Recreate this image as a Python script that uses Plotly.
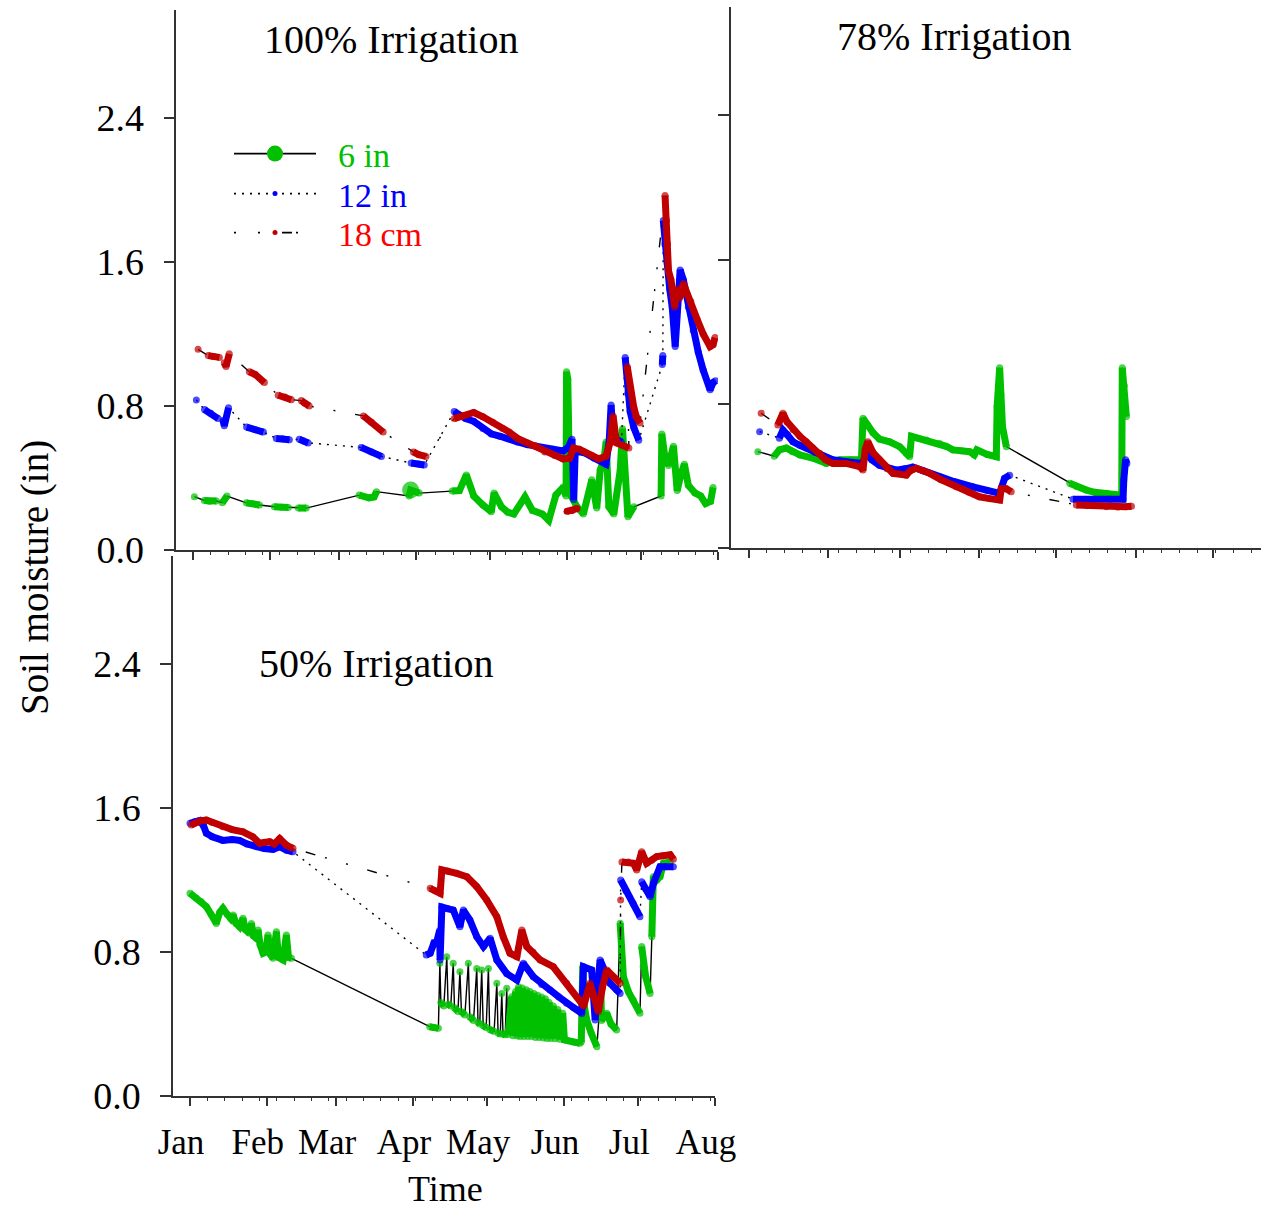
import plotly.graph_objects as go
import pandas as pd

# ---------------- data: (day offset from 1 Jan, soil moisture in inches) ----------------
# 100 % irrigation
green_100 = [
    [(0.4, 0.296)],
    [(4.4, 0.275), (6.5, 0.27), (9.3, 0.272)],
    [(11.7, 0.263), (13.6, 0.30)],
    [(21.4, 0.262), (24.0, 0.258), (26.7, 0.25)],
    [(32.7, 0.24), (35.5, 0.238), (38.4, 0.236)],
    [(42.4, 0.233), (45.6, 0.233)],
    [(67.0, 0.305), (71.0, 0.29), (73.0, 0.295), (74.0, 0.324)],
    [(87.2, 0.30), (87.8, 0.333), (91.3, 0.316)],
    [(104.6, 0.328), (107.5, 0.33), (110.3, 0.417), (113.3, 0.30), (117.0, 0.25), (120.4, 0.213),
     (121.5, 0.317), (124.5, 0.24), (127.0, 0.21), (129.5, 0.20), (134.0, 0.295), (137.0, 0.22),
     (141.0, 0.20), (143.6, 0.165), (146.5, 0.305), (149.5, 0.35), (150.6, 0.30), (150.8, 0.99),
     (151.3, 0.95), (151.6, 0.72), (152.0, 0.317), (155.0, 0.24), (157.6, 0.20), (161.0, 0.39),
     (163.0, 0.233), (164.4, 0.444), (165.9, 0.50), (166.8, 0.60), (167.9, 0.24), (169.9, 0.20),
     (172.5, 0.444), (173.4, 0.674), (174.2, 0.45), (175.6, 0.185), (178.0, 0.24)],
    [(189.0, 0.30), (189.3, 0.645), (190.5, 0.52), (192.0, 0.47), (194.0, 0.577), (195.5, 0.33),
     (197.0, 0.42), (198.4, 0.477), (200.0, 0.36), (202.7, 0.317), (205.0, 0.30), (207.0, 0.258),
     (209.0, 0.27), (210.0, 0.347)],
]
blue_100 = [
    [(1.2, 0.833)],
    [(4.5, 0.78), (7.0, 0.76), (10.0, 0.73)],
    [(12.0, 0.72), (12.5, 0.69), (14.2, 0.79)],
    [(21.5, 0.683), (25.0, 0.668), (28.3, 0.655)],
    [(33.5, 0.62), (36.0, 0.618), (38.8, 0.612)],
    [(42.8, 0.615), (44.5, 0.605), (46.4, 0.595)],
    [(67.8, 0.57), (72.0, 0.545), (76.0, 0.52)],
    [(88.0, 0.483), (91.0, 0.478), (93.3, 0.472)],
    [(105.4, 0.77), (107.5, 0.75), (110.0, 0.73), (113.3, 0.715), (117.0, 0.675), (120.4, 0.645),
     (124.0, 0.632), (127.6, 0.62), (131.0, 0.60), (135.0, 0.585), (140.0, 0.57), (145.0, 0.56),
     (149.4, 0.55), (151.5, 0.57), (153.0, 0.615), (153.4, 0.45), (153.7, 0.28), (154.3, 0.55),
     (158.0, 0.54), (162.0, 0.51), (166.7, 0.477), (168.0, 0.60), (168.8, 0.805), (169.5, 0.66),
     (171.0, 0.615), (173.0, 0.60)],
    [(174.5, 1.07), (175.5, 0.87), (176.5, 0.77), (178.0, 0.68), (180.0, 0.61)],
    [(189.5, 1.03), (189.7, 1.08)],
    [(189.9, 1.83), (190.5, 1.70), (191.5, 1.59), (192.5, 1.45), (193.5, 1.35), (194.7, 1.13),
     (195.5, 1.35), (196.7, 1.556), (198.0, 1.50), (200.0, 1.35), (202.0, 1.22), (204.0, 1.10),
     (206.0, 1.00), (208.8, 0.89), (210.0, 0.93), (211.0, 0.94)],
]
red_100 = [
    [(1.9, 1.115)],
    [(6.0, 1.08), (8.0, 1.075), (10.5, 1.07)],
    [(12.5, 1.04), (13.2, 1.02), (14.5, 1.09)],
    [(22.6, 0.99), (25.0, 0.975), (28.7, 0.93)],
    [(34.3, 0.86), (37.0, 0.85), (39.6, 0.835)],
    [(43.6, 0.83), (45.0, 0.815), (46.8, 0.80)],
    [(68.7, 0.745), (72.0, 0.71), (76.7, 0.655)],
    [(88.9, 0.545), (91.0, 0.53), (94.0, 0.52)],
    [(105.4, 0.73), (109.0, 0.745), (113.3, 0.764), (117.0, 0.74), (121.0, 0.71), (125.0, 0.675),
     (127.6, 0.655), (131.0, 0.62), (135.0, 0.595), (138.0, 0.58), (142.0, 0.545), (146.0, 0.525),
     (149.4, 0.506), (152.0, 0.51), (153.7, 0.567), (156.0, 0.56), (158.0, 0.545), (161.0, 0.525),
     (163.8, 0.506), (166.7, 0.52), (168.5, 0.60), (169.6, 0.745), (170.3, 0.62), (171.0, 0.595),
     (173.5, 0.58), (176.0, 0.567)],
    [(175.3, 1.02), (176.5, 0.90), (178.0, 0.79), (179.0, 0.74), (180.5, 0.705)],
    [(190.6, 1.97), (191.2, 1.83), (191.6, 1.70), (192.0, 1.55), (193.0, 1.50), (194.5, 1.35),
     (195.5, 1.45), (196.5, 1.40), (198.0, 1.48), (199.5, 1.42), (201.0, 1.38), (203.6, 1.28),
     (206.0, 1.20), (208.8, 1.13), (210.0, 1.14), (210.8, 1.18)],
]
red_100_low = [(151.0, 0.215), (153.0, 0.22), (155.0, 0.23)]

# 78 % irrigation
green_78 = [
    [(3.6, 0.535)],
    [(10.0, 0.51), (12.0, 0.545), (14.7, 0.555), (17.0, 0.535), (20.0, 0.517), (25.0, 0.50),
     (30.3, 0.47), (35.5, 0.49), (40.0, 0.49), (44.0, 0.49), (44.6, 0.72), (46.5, 0.68),
     (48.5, 0.64), (51.0, 0.605), (55.0, 0.59), (58.9, 0.563), (61.5, 0.527), (62.8, 0.507),
     (63.5, 0.62), (66.0, 0.61), (69.3, 0.60), (74.5, 0.58), (77.0, 0.565), (79.7, 0.545),
     (83.0, 0.54), (86.2, 0.535), (88.0, 0.517), (89.0, 0.545), (93.0, 0.52), (96.6, 0.507),
     (96.9, 0.785), (97.9, 1.00), (98.4, 0.85), (99.0, 0.674), (100.5, 0.563)],
    [(125.2, 0.36), (128.0, 0.34), (131.7, 0.322), (135.0, 0.31), (139.5, 0.304), (145.5, 0.294),
     (145.7, 1.00), (146.5, 0.90), (147.3, 0.73)],
]
blue_78 = [
    [(4.3, 0.646)],
    [(12.0, 0.61), (13.4, 0.655), (15.0, 0.63), (17.3, 0.59), (20.0, 0.57), (22.5, 0.555),
     (26.0, 0.53), (29.0, 0.507), (32.8, 0.49), (38.0, 0.48), (44.5, 0.47), (45.9, 0.535),
     (48.0, 0.49), (51.0, 0.46), (54.0, 0.445), (57.6, 0.433), (61.0, 0.44), (64.0, 0.45),
     (68.0, 0.43), (74.5, 0.396), (80.0, 0.37), (87.5, 0.34), (93.0, 0.32), (97.9, 0.304),
     (99.8, 0.387), (101.8, 0.405)],
    [(126.5, 0.272), (135.0, 0.272), (141.0, 0.272), (146.0, 0.272), (146.3, 0.378), (147.0, 0.49),
     (147.5, 0.47)],
]
red_78 = [
    [(4.9, 0.748)],
    [(11.4, 0.683), (12.0, 0.70), (13.4, 0.748), (15.0, 0.70), (17.3, 0.656), (20.0, 0.62),
     (22.5, 0.59), (25.0, 0.555), (27.7, 0.526), (30.0, 0.49), (32.9, 0.47), (38.0, 0.47),
     (43.3, 0.452), (44.6, 0.433), (45.5, 0.55), (46.5, 0.59), (48.5, 0.53), (51.0, 0.49),
     (54.0, 0.44), (56.3, 0.415), (61.5, 0.405), (63.0, 0.43), (65.4, 0.443), (68.0, 0.43),
     (70.6, 0.415), (75.0, 0.38), (81.0, 0.34), (86.0, 0.31), (90.0, 0.285), (94.0, 0.275),
     (97.9, 0.267), (98.5, 0.33), (100.5, 0.33), (102.4, 0.313)],
    [(127.8, 0.24), (132.0, 0.236), (139.5, 0.23), (144.0, 0.228), (147.0, 0.23), (149.3, 0.233)],
]

# 50 % irrigation
green_50 = [
    [(0.0, 1.126), (2.5, 1.10), (4.5, 1.08), (6.6, 1.052), (8.5, 1.01), (10.6, 0.959), (12.0, 1.02),
     (13.3, 1.043), (15.0, 1.01), (16.5, 0.985), (17.4, 1.006), (18.5, 0.96), (20.0, 0.94),
     (21.4, 0.987), (22.3, 0.925), (24.0, 0.904), (24.8, 0.959), (25.6, 0.89), (26.8, 0.876),
     (27.5, 0.922), (28.3, 0.84), (29.5, 0.793), (30.6, 0.80), (31.5, 0.894), (32.3, 0.79),
     (33.5, 0.765), (34.9, 0.913), (35.7, 0.77), (37.6, 0.756), (38.9, 0.894), (39.8, 0.77),
     (41.0, 0.765)],
    [(96.8, 0.385), (98.5, 0.38), (100.3, 0.376)],
    [(100.9, 0.737)],
    [(101.3, 0.52), (102.5, 0.50)],
    [(103.7, 0.774)],
    [(104.2, 0.51), (105.3, 0.50)],
    [(106.3, 0.737)],
    [(106.8, 0.49), (108.2, 0.47)],
    [(109.0, 0.69)],
    [(109.6, 0.47), (111.0, 0.45)],
    [(112.4, 0.737)],
    [(113.0, 0.44), (114.5, 0.42)],
    [(115.8, 0.709)],
    [(116.3, 0.41), (117.0, 0.40)],
    [(117.8, 0.70)],
    [(118.4, 0.39), (119.6, 0.38)],
    [(120.5, 0.709)],
    [(121.0, 0.37), (122.8, 0.36)],
    [(123.9, 0.626)],
    [(124.4, 0.35), (125.3, 0.345)],
    [(125.9, 0.57)],
    [(126.4, 0.345), (127.3, 0.34)],
    [(127.9, 0.598)],
    [(128.4, 0.34), (129.9, 0.552), (130.4, 0.335), (131.5, 0.58),
     (132.1, 0.333), (132.7, 0.607), (133.3, 0.33), (134.2, 0.60), (134.8, 0.33), (135.8, 0.59),
     (136.4, 0.33), (137.3, 0.58), (137.9, 0.33), (138.9, 0.57), (139.5, 0.325), (140.4, 0.56),
     (141.0, 0.325), (142.0, 0.55), (142.6, 0.322), (143.5, 0.54), (144.1, 0.32), (145.0, 0.52),
     (145.6, 0.32), (146.7, 0.50), (147.3, 0.318), (148.5, 0.48), (149.2, 0.315), (150.5, 0.46),
     (151.2, 0.312), (152.1, 0.311), (155.0, 0.30), (157.5, 0.293)],
    [(158.0, 0.30), (158.6, 0.72), (159.2, 0.50), (160.2, 0.422), (162.0, 0.35), (164.3, 0.274)],
    [(165.2, 0.45), (165.6, 0.737), (166.2, 0.42), (168.3, 0.46), (170.0, 0.40), (172.3, 0.367)],
    [(173.7, 0.96), (174.2, 0.80), (175.0, 0.663), (177.0, 0.58), (179.0, 0.533), (181.7, 0.46)],
    [(182.4, 0.83), (183.0, 0.72), (184.0, 0.663), (185.8, 0.57)],
    [(186.5, 0.885), (187.1, 1.218), (188.5, 1.20), (189.8, 1.218), (191.2, 1.293), (193.9, 1.30)],
]
blue_50 = [
    [(0.0, 1.515), (2.0, 1.525), (3.9, 1.53), (5.5, 1.50), (6.6, 1.46), (9.0, 1.44), (13.3, 1.42),
     (17.0, 1.425), (20.0, 1.42), (23.0, 1.40), (26.8, 1.385), (30.0, 1.375), (33.5, 1.37),
     (36.2, 1.385), (39.0, 1.365), (41.6, 1.357)],
    [(95.4, 0.783), (97.0, 0.793), (98.5, 0.85), (99.5, 0.848), (100.8, 0.92), (101.0, 0.756),
     (101.7, 1.05), (104.0, 1.04), (106.3, 1.033), (109.0, 0.94), (110.4, 1.033), (113.0, 0.978),
     (115.8, 0.885), (118.5, 0.83), (121.2, 0.876), (123.9, 0.756), (127.9, 0.68), (132.0, 0.644),
     (134.6, 0.737), (138.6, 0.663), (142.0, 0.62), (145.4, 0.589), (149.0, 0.55), (152.1, 0.515),
     (155.0, 0.49), (158.2, 0.459), (158.9, 0.718), (162.2, 0.70), (163.6, 0.422), (165.6, 0.756),
     (168.0, 0.68), (169.6, 0.626), (172.3, 0.589), (173.7, 0.57)],
    [(173.9, 1.20), (176.0, 1.14), (179.0, 1.07), (181.7, 0.996)],
    [(182.4, 1.19), (184.0, 1.15), (185.8, 1.107), (187.1, 1.18), (189.8, 1.274), (192.0, 1.274),
     (195.2, 1.274)],
]
red_50 = [
    [(0.5, 1.506), (2.5, 1.52), (4.5, 1.53), (6.6, 1.533), (9.0, 1.52), (13.3, 1.496), (17.0, 1.48),
     (21.4, 1.468), (25.4, 1.44), (28.1, 1.404), (30.0, 1.41), (32.2, 1.413), (34.0, 1.40),
     (36.2, 1.43), (38.9, 1.394), (41.6, 1.376)],
    [(97.0, 1.154), (99.0, 1.14), (101.0, 1.126), (101.7, 1.256), (104.0, 1.25), (107.7, 1.237),
     (111.8, 1.218), (115.8, 1.163), (119.8, 1.089), (123.9, 0.996), (126.5, 0.885), (129.2, 0.793),
     (132.0, 0.774), (134.0, 0.922), (136.0, 0.83), (138.5, 0.80), (141.4, 0.756), (146.7, 0.718),
     (152.1, 0.626), (157.5, 0.533), (159.0, 0.50), (161.5, 0.626), (163.0, 0.55), (164.9, 0.468),
     (166.5, 0.60), (168.3, 0.70), (171.0, 0.663), (173.7, 0.626)],
    [(173.9, 1.089)],
    [(174.4, 1.30), (177.0, 1.30), (179.0, 1.293), (180.4, 1.256), (182.4, 1.357), (184.4, 1.293),
     (186.5, 1.31), (188.5, 1.33), (191.0, 1.335), (193.9, 1.34), (195.2, 1.315)],
]

month_ticks = ["2019-01-01", "2019-02-01", "2019-03-01", "2019-04-01",
               "2019-05-01", "2019-06-01", "2019-07-01", "2019-08-01"]
month_labels = ["Jan", "Feb", "Mar", "Apr", "May", "Jun", "Jul", "Aug"]
y_ticks = [0.0, 0.8, 1.6, 2.4]
legend_names = ["6 in", "12 in", "18 cm"]
panel_titles = ["100% Irrigation", "78% Irrigation", "50% Irrigation"]

# ---------------- styling ----------------
W, H = 1261, 1211
BASE = pd.Timestamp("2019-01-01")
GREEN, BLUE, RED = "#00C000", "#0000FF", "#C00000"
LEG_GREEN, LEG_BLUE, LEG_RED = "#00C000", "#0000FF", "#FF0000"
DASH_SOLID, DASH_DOT = "solid", "2px,6px"
DASH_DASHDOT = "10px,10px,2px,20px,2px,20px"
FONT = "Liberation Serif"
AX = "#333333"
BAND_W, MARK_S = 7, 7


def to_date(d):
    return None if d is None else BASE + pd.Timedelta(days=d)


fig = go.Figure()


def add_series(segs, color, dash, xa, ya, big_day=None):
    all_d = [p[0] for s in segs for p in s]
    all_v = [p[1] for s in segs for p in s]
    fig.add_trace(go.Scatter(
        x=[to_date(d) for d in all_d], y=all_v, xaxis=xa, yaxis=ya, mode="lines",
        line=dict(color="black", width=1.4, dash=dash), showlegend=False, hoverinfo="skip"))
    sd, sv = [], []
    for s in segs:
        sd += [p[0] for p in s] + [None]
        sv += [p[1] for p in s] + [None]
    sizes = [17 if (big_day is not None and d == big_day) else MARK_S for d in sd]
    fig.add_trace(go.Scatter(
        x=[to_date(d) for d in sd], y=sv, xaxis=xa, yaxis=ya, mode="lines+markers",
        line=dict(color=color, width=BAND_W),
        marker=dict(color=color, size=sizes, line=dict(width=0)),
        connectgaps=False, showlegend=False, hoverinfo="skip"))


add_series(green_100, GREEN, DASH_SOLID, "x", "y", big_day=87.8)
add_series(blue_100, BLUE, DASH_DOT, "x", "y")
add_series(red_100, RED, DASH_DASHDOT, "x", "y")
fig.add_trace(go.Scatter(
    x=[to_date(p[0]) for p in red_100_low], y=[p[1] for p in red_100_low], xaxis="x", yaxis="y",
    mode="lines+markers", line=dict(color=RED, width=BAND_W),
    marker=dict(color=RED, size=MARK_S, line=dict(width=0)),
    showlegend=False, hoverinfo="skip"))

add_series(green_78, GREEN, DASH_SOLID, "x2", "y2")
add_series(blue_78, BLUE, DASH_DOT, "x2", "y2")
add_series(red_78, RED, DASH_DASHDOT, "x2", "y2")

add_series(green_50, GREEN, DASH_SOLID, "x3", "y3")
add_series(blue_50, BLUE, DASH_DOT, "x3", "y3")
add_series(red_50, RED, DASH_DASHDOT, "x3", "y3")

# legend entries (one legend box per row so the rows can be spaced like the original)
legend_rows = [
    (legend_names[0], GREEN, LEG_GREEN, DASH_SOLID, 18, "legend", 154),
    (legend_names[1], BLUE, LEG_BLUE, DASH_DOT, 5, "legend2", 194),
    (legend_names[2], RED, LEG_RED, "2px,22px,2px,22px,10px,4px", 5, "legend3", 233),
]
legend_layout = {}
for name, mcol, tcol, dash, ms, lg, ypix in legend_rows:
    fig.add_trace(go.Scatter(
        x=[None], y=[None], xaxis="x", yaxis="y", mode="lines+markers", legend=lg,
        name=f"&nbsp;&nbsp;<span style='color:{tcol}'>{name}</span>",
        line=dict(color="black", width=1.6, dash=dash),
        marker=dict(color=mcol, size=ms, line=dict(width=0))))
    legend_layout[lg] = dict(x=229 / W, y=(H - ypix) / H, xanchor="left", yanchor="middle",
                             bgcolor="rgba(0,0,0,0)", font=dict(family=FONT, size=34),
                             itemwidth=82)

x_left_a = "2018-12-25 03:20"
minor = dict(dtick=7 * 86400000, tick0="2019-01-01", ticks="outside", ticklen=3,
             tickcolor=AX, tickwidth=1)
xcommon = dict(type="date", showline=True, linecolor=AX, linewidth=1.5, showgrid=False,
               zeroline=False, ticks="outside", tickcolor=AX, tickwidth=1.5, ticklen=8,
               tickvals=month_ticks, ticktext=month_labels, automargin=False,
               minor=minor, fixedrange=True)
ycommon = dict(range=[0, 3], showline=True, linecolor=AX, linewidth=1.5, showgrid=False,
               zeroline=False, ticks="outside", tickcolor=AX, tickwidth=1.5, ticklen=11,
               tickvals=y_ticks, tickformat=".1f", automargin=False,
               tickfont=dict(family=FONT, size=38, color="black"), ticklabelstandoff=12)

fig.update_layout(
    width=W, height=H, margin=dict(l=0, r=0, t=0, b=0),
    paper_bgcolor="white", plot_bgcolor="white",
    font=dict(family=FONT, color="black"),
    xaxis=dict(xcommon, domain=[176.4 / W, 718 / W], range=[x_left_a, "2019-08-01"],
               anchor="y", showticklabels=False),
    yaxis=dict(ycommon, domain=[(H - 550) / H, (H - 10) / H], anchor="x"),
    xaxis2=dict(xcommon, domain=[731 / W, 1.0], range=[x_left_a, "2019-07-19 19:12"],
                anchor="y2", showticklabels=False),
    yaxis2=dict(ycommon, domain=[(H - 548.2) / H, (H - 7) / H], anchor="x2",
                showticklabels=False),
    xaxis3=dict(xcommon, domain=[173 / W, 715 / W], range=[x_left_a, "2019-08-01"],
                anchor="y3", showticklabels=True,
                tickfont=dict(family=FONT, size=35, color="black"), ticklabelstandoff=6,
                ticklabelshift=-9),
    yaxis3=dict(ycommon, domain=[(H - 1096) / H, (H - 556) / H], anchor="x3"),
    showlegend=True,
    annotations=[
        dict(text=panel_titles[0], x=391 / W, y=(H - 39) / H, xref="paper", yref="paper",
             showarrow=False, font=dict(family=FONT, size=40), xanchor="center", yanchor="middle"),
        dict(text=panel_titles[1], x=954 / W, y=(H - 37) / H, xref="paper", yref="paper",
             showarrow=False, font=dict(family=FONT, size=40), xanchor="center", yanchor="middle"),
        dict(text=panel_titles[2], x=376 / W, y=(H - 663) / H, xref="paper", yref="paper",
             showarrow=False, font=dict(family=FONT, size=40), xanchor="center", yanchor="middle"),
        dict(text="Soil moisture (in)", x=35 / W, y=(H - 578) / H, xref="paper", yref="paper",
             showarrow=False, textangle=-90, font=dict(family=FONT, size=39),
             xanchor="center", yanchor="middle"),
        dict(text="Time", x=445 / W, y=(H - 1189) / H, xref="paper", yref="paper",
             showarrow=False, font=dict(family=FONT, size=36), xanchor="center", yanchor="middle"),
    ],
    **legend_layout,
)

fig.write_html("out.html")
